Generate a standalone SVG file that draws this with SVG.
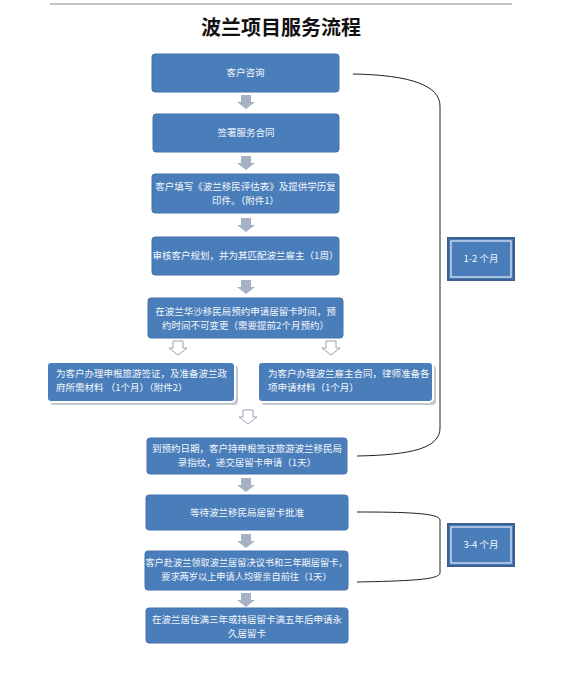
<svg xmlns="http://www.w3.org/2000/svg" width="578" height="680" viewBox="0 0 578 680">
<defs>
<style>
.box{fill:#4a7ebb;stroke:#4272ab;stroke-width:1}
.box2{fill:#4a7ebb;stroke:#ffffff;stroke-width:2}
.shadow{fill:#9aa5b5;opacity:0.6}
.t{font-family:"Noto Sans CJK SC","Noto Sans",sans-serif;font-size:9.5px;fill:#f4f7fc;text-anchor:middle}
.tl{font-family:"Noto Sans CJK SC","Noto Sans",sans-serif;font-size:9.5px;fill:#f4f7fc;text-anchor:start}
.title{font-family:"Noto Sans CJK SC","Noto Sans",sans-serif;font-size:20px;fill:#111;text-anchor:middle;font-weight:bold}
.arr{fill:#a7b1c6}
.harr{fill:#ffffff;stroke:#9aa3b3;stroke-width:1}
.br{fill:none;stroke:#222;stroke-width:1}
.lab{fill:#4a7ebb;stroke:#3b5f8f;stroke-width:2}
.labin{fill:none;stroke:#ffffff;stroke-width:1}
</style>
<path id="darr" d="M-5,0 H5 V7 H9 L0,14 L-9,7 H-5 Z"/>
</defs>
<line x1="50" y1="4" x2="512" y2="4" stroke="#888" stroke-width="1"/>
<text class="title" x="281" y="35">波兰项目服务流程</text>

<g id="connectors">
<use href="#darr" class="arr" x="246" y="95"/>
<use href="#darr" class="arr" x="246" y="156"/>
<use href="#darr" class="arr" x="246" y="218"/>
<use href="#darr" class="arr" x="246" y="280"/>
<use href="#darr" class="harr" x="178" y="341"/>
<use href="#darr" class="harr" x="331" y="341"/>
<use href="#darr" class="harr" x="248" y="410"/>
<use href="#darr" class="arr" x="246" y="478"/>
<use href="#darr" class="arr" x="246" y="534"/>
<use href="#darr" class="arr" x="246" y="593"/>
<path class="br" d="M353,74 C412,75 440,86 440,106 L440,428 C440,448 412,455 357,456"/>
<path class="br" d="M357,512 C405,512 440,513 440,520 L440,573 C440,580 405,581 357,582"/>
</g>

<g id="n1"><rect class="box" x="152" y="54" width="187" height="38" rx="3"/><text class="t" x="245.5" y="76">客户咨询</text></g>
<g id="n2"><rect class="box" x="153" y="114" width="186" height="38" rx="3"/><text class="t" x="246" y="136">签署服务合同</text></g>
<g id="n3"><rect class="box" x="152" y="174" width="187" height="39" rx="3"/><text class="t" x="245.5" y="190">客户填写《波兰移民评估表》及提供学历复</text><text class="t" x="245.5" y="204">印件。（附件1）</text></g>
<g id="n4"><rect class="box" x="152" y="237" width="187" height="38" rx="3"/><text class="t" x="245.5" y="259">审核客户规划，并为其匹配波兰雇主（1周）</text></g>
<g id="n5"><rect class="box" x="148" y="298" width="195" height="40" rx="3"/><text class="t" x="245.5" y="315">在波兰华沙移民局预约申请居留卡时间，预</text><text class="t" x="245.5" y="329">约时间不可变更（需要提前2个月预约）</text></g>
<g id="n6"><rect class="shadow" x="50" y="365" width="188" height="40" rx="4"/><rect class="box2" x="47" y="362" width="188" height="40" rx="4"/><text class="tl" x="56" y="377">为客户办理申根旅游签证，及准备波兰政</text><text class="tl" x="56" y="391">府所需材料 （1个月）（附件2）</text></g>
<g id="n7"><rect class="shadow" x="261" y="365" width="175" height="40" rx="4"/><rect class="box2" x="258" y="362" width="175" height="40" rx="4"/><text class="tl" x="268" y="377">为客户办理波兰雇主合同，律师准备各</text><text class="tl" x="268" y="391">项申请材料（1个月）</text></g>
<g id="n8"><rect class="box" x="147" y="438" width="200" height="36" rx="3"/><text class="t" x="247" y="452">到预约日期，客户持申根签证旅游波兰移民局</text><text class="t" x="247" y="466">录指纹，递交居留卡申请（1天）</text></g>
<g id="n9"><rect class="box" x="146" y="495" width="202" height="35" rx="3"/><text class="t" x="247" y="516">等待波兰移民局居留卡批准</text></g>
<g id="n10"><rect class="box" x="145" y="551" width="203" height="39" rx="3"/><text class="t" x="246.5" y="566" style="font-size:9.2px">客户赴波兰领取波兰居留决议书和三年期居留卡，</text><text class="t" x="246.5" y="580" style="font-size:9.2px">要求两岁以上申请人均要亲自前往（1天）</text></g>
<g id="n11"><rect class="box" x="146" y="608" width="202" height="35" rx="3"/><text class="t" x="247" y="623">在波兰居住满三年或持居留卡满五年后申请永</text><text class="t" x="247" y="637">久居留卡</text></g>

<g id="l1"><rect class="lab" x="448" y="238" width="66" height="42"/><rect class="labin" x="451" y="241" width="60" height="36"/><text class="t" x="481" y="262">1-2 个月</text></g>
<g id="l2"><rect class="lab" x="448" y="524" width="66" height="42"/><rect class="labin" x="451" y="527" width="60" height="36"/><text class="t" x="481" y="548">3-4 个月</text></g>
</svg>
